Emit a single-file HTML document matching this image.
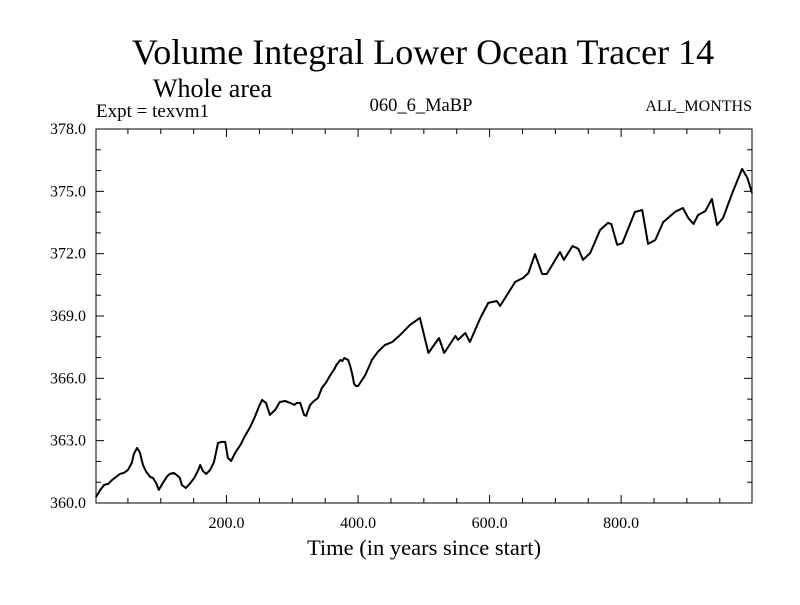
<!DOCTYPE html>
<html><head><meta charset="utf-8"><style>
body{margin:0;background:#fff}
svg text{font-family:"Liberation Serif",serif;fill:#000}
</style></head><body>
<svg id="c" width="800" height="600">
<text x="423" y="64" font-size="36" text-anchor="middle">Volume Integral Lower Ocean Tracer 14</text>
<text x="153" y="97" font-size="26">Whole area</text>
<text x="96" y="117" font-size="19">Expt = texvm1</text>
<text x="421" y="111" font-size="18.5" text-anchor="middle">060_6_MaBP</text>
<text x="752" y="111" font-size="16" text-anchor="end">ALL_MONTHS</text>
<text x="424" y="555" font-size="22.5" text-anchor="middle">Time (in years since start)</text>
<g id="ax"></g>
</svg>
<script>
const years=[1.5,8,14,20,26,32,38,44,50,56,59,64,68,73,78,84,88,93,97,103,110,114,120,126,129,132,138,144,151,157,160,164,169,175,181,187,192,198,202,207,213,221,228,236,243,249,254,260,266,274,281,289,297,303,307,312,318,321,327,333,339,345,351,357,364,367,373,376,379,385,388,391,394,397,400,411,421,430,441,452,464,479,494,507,523,531,548,552,563,570,586,598,611,616,639,651,659,669,680,687,707,713,726,735,742,753,768,780,785,794,802,821,832,841,852,864,882,894,902,910,917,928,938,946,955,969,984,992,999];
const values=[360.29,360.63,360.87,360.92,361.11,361.25,361.40,361.45,361.59,361.93,362.36,362.65,362.46,361.83,361.49,361.25,361.21,360.96,360.63,360.96,361.30,361.40,361.45,361.30,361.21,360.87,360.72,360.92,361.21,361.59,361.83,361.54,361.40,361.59,361.98,362.89,362.94,362.94,362.17,362.02,362.41,362.79,363.23,363.66,364.14,364.62,364.96,364.82,364.24,364.48,364.86,364.91,364.82,364.72,364.82,364.82,364.24,364.19,364.72,364.91,365.06,365.54,365.78,366.11,366.45,366.64,366.88,366.83,366.98,366.88,366.59,366.21,365.73,365.63,365.63,366.16,366.88,367.27,367.61,367.75,368.09,368.57,368.91,367.22,367.94,367.22,368.04,367.85,368.18,367.75,368.91,369.63,369.72,369.48,370.64,370.83,371.07,371.98,371.02,371.02,372.08,371.70,372.37,372.23,371.70,372.03,373.14,373.48,373.43,372.42,372.51,374.01,374.10,372.47,372.66,373.52,374.01,374.20,373.72,373.43,373.86,374.05,374.63,373.38,373.72,374.92,376.08,375.64,374.92];
const xTicks=[200,400,600,800];
const xTickLabels=["200.0","400.0","600.0","800.0"];
const yTicks=[360,363,366,369,372,375,378];
const yTickLabels=["360.0","363.0","366.0","369.0","372.0","375.0","378.0"];
const L=96,R=752,T=129,B=503,X0=1.5,X1=999,Y0=360,Y1=378;
const sx=v=>L+(v-X0)/(X1-X0)*(R-L);
const sy=v=>B-(v-Y0)/(Y1-Y0)*(B-T);
const NS="http://www.w3.org/2000/svg";
const g=document.getElementById('ax');
function mk(t,a){const e=document.createElementNS(NS,t);for(const k in a)e.setAttribute(k,a[k]);g.appendChild(e);return e;}
const fr=mk('rect',{x:L,y:T,width:R-L,height:B-T,fill:'none',stroke:'#000','stroke-width':1});


for(let v=50;v<1000;v+=50){const len=(v%200===0)?8:5;
 const a=mk('line',{x1:sx(v),x2:sx(v),y1:B,y2:B-len,stroke:'#000'});
 
 
 const b=mk('line',{x1:sx(v),x2:sx(v),y1:T,y2:T+len,stroke:'#000'});
 
 }
for(let v=361;v<378;v++){const len=(v%3===0)?8:5;
 const a=mk('line',{x1:L,x2:L+len,y1:sy(v),y2:sy(v),stroke:'#000'});
 
 
 const b=mk('line',{x1:R,x2:R-len,y1:sy(v),y2:sy(v),stroke:'#000'});
 
 }
xTicks.forEach((v,i)=>{const t=mk('text',{x:sx(v),y:528,'font-size':16,'text-anchor':'middle'});t.textContent=xTickLabels[i];
 
 });
yTicks.forEach((v,i)=>{const t=mk('text',{x:86,y:sy(v)+5,'font-size':16,'text-anchor':'end'});t.textContent=yTickLabels[i];
 
 });
const d=years.map((y,i)=>(i?'L':'M')+sx(y).toFixed(1)+' '+sy(values[i]).toFixed(1)).join(' ');
const p=mk('path',{d:d,fill:'none',stroke:'#000','stroke-width':2,'stroke-linejoin':'round'});


</script>
</body></html>
